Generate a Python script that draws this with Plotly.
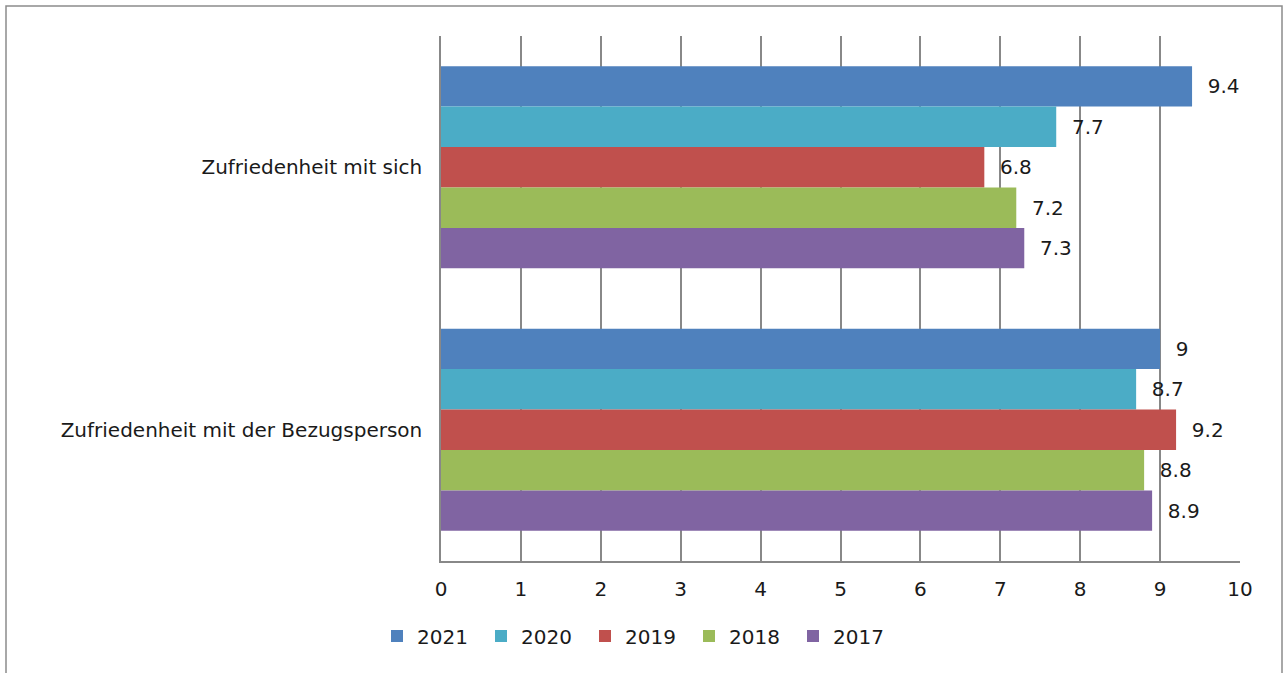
import plotly.graph_objects as go

categories = ["Zufriedenheit mit sich", "Zufriedenheit mit der Bezugsperson"]
years = ["2021", "2020", "2019", "2018", "2017"]
values_2021 = [9.4, 9.0]
values_2020 = [7.7, 8.7]
values_2019 = [6.8, 9.2]
values_2018 = [7.2, 8.8]
values_2017 = [7.3, 8.9]
series = [values_2021, values_2020, values_2019, values_2018, values_2017]
colors = ["#4F81BD", "#4BACC6", "#C0504D", "#9BBB59", "#8064A2"]
x_ticks = list(range(0, 11))

FONT = "DejaVu Sans"
FS = 20
TXT = "#1a1a1a"
GRID = "#888888"

fig = go.Figure()
for name, vals, col in zip(years, series, colors):
    fig.add_trace(go.Bar(
        y=categories, x=vals, name=name, orientation="h",
        marker=dict(color=col, line=dict(width=0)),
        text=["\u00a0\u00a0" + (f"{v:g}") for v in vals],
        textposition="outside", cliponaxis=False,
        textfont=dict(family=FONT, size=FS, color=TXT),
        hoverinfo="x+name",
    ))

fig.update_layout(
    width=1288, height=673,
    barmode="group", bargap=0.23, bargroupgap=0,
    plot_bgcolor="white", paper_bgcolor="white",
    margin=dict(l=441, r=48, t=36, b=112),
    font=dict(family=FONT, size=FS, color=TXT),
    showlegend=True,
    legend=dict(orientation="h", xref="container", yref="container",
                x=(644 - 7) / 1288, xanchor="center", y=1 - 636 / 673, yanchor="middle",
                font=dict(family=FONT, size=FS, color=TXT),
                traceorder="normal", entrywidth=59, entrywidthmode="pixels",
                itemclick=False),
    xaxis=dict(range=[0, 10], tickvals=x_ticks, showgrid=True, gridcolor=GRID,
               gridwidth=1.5, zeroline=False, showline=True, linecolor=GRID,
               linewidth=1.5, ticks="outside", ticklen=9, tickcolor="rgba(0,0,0,0)",
               tickfont=dict(family=FONT, size=FS, color=TXT)),
    yaxis=dict(autorange="reversed", showline=True, linecolor=GRID, linewidth=1.5,
               ticks="outside", ticklen=13, tickcolor="rgba(0,0,0,0)",
               tickfont=dict(family=FONT, size=FS, color=TXT), showgrid=False),
    shapes=[dict(type="rect", xref="paper", yref="paper",
                 x0=(6 - 441) / 799, x1=(1282 - 441) / 799,
                 y0=-(700 - 561) / 525, y1=1 + (36 - 6) / 525,
                 line=dict(color="#8c8c8c", width=1.5), fillcolor="rgba(0,0,0,0)",
                 layer="below")],
)

fig.write_html("out.html", config={"displayModeBar": False},
               post_script="document.body.style.margin='0';document.body.style.overflow='hidden';")
